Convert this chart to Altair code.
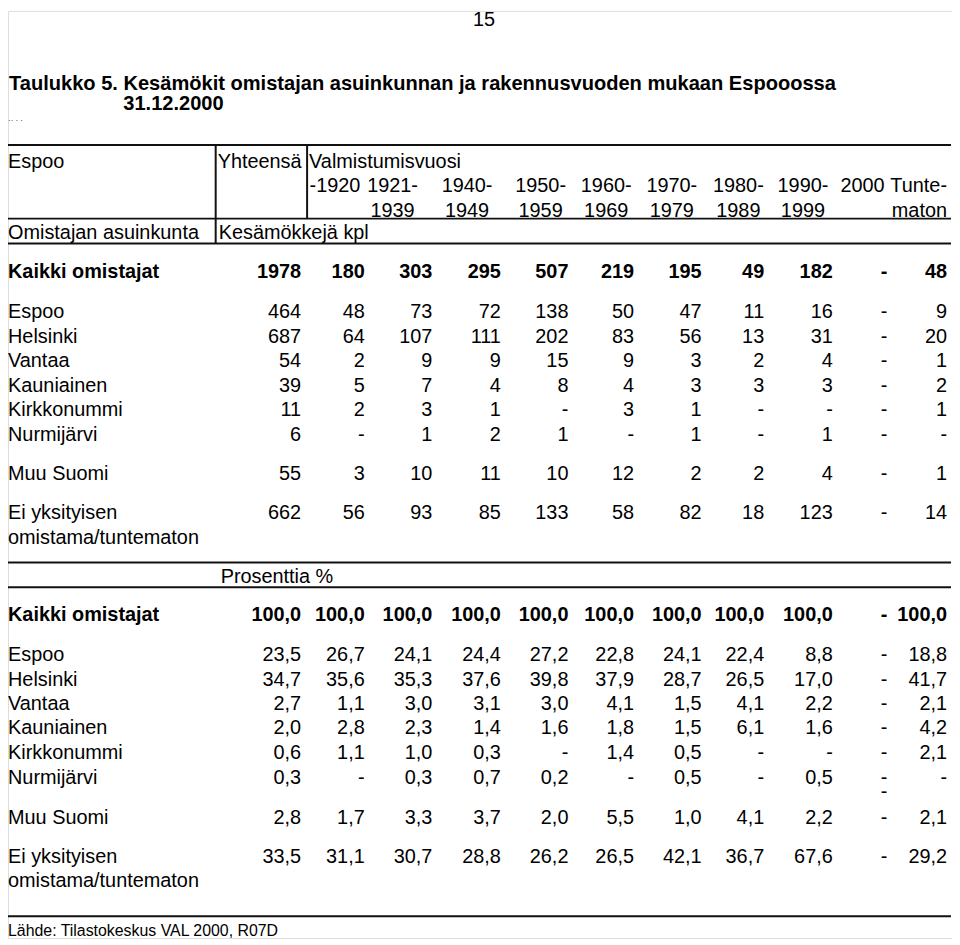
import altair as alt
import pandas as pd

# ---------------- data ----------------
title_line1 = "Taulukko 5. Kesämökit omistajan asuinkunnan ja rakennusvuoden mukaan Espooossa"
title_line2 = "31.12.2000"
page_number = "15"
source_note = "Lähde: Tilastokeskus VAL 2000, R07D"

header_top = ["Espoo", "Yhteensä", "Valmistumisvuosi"]
header_bottom = ["Omistajan asuinkunta", "Kesämökkejä kpl"]
period_line1 = ["-1920", "1921-", "1940-", "1950-", "1960-", "1970-", "1980-", "1990-", "2000"]
period_line2 = ["", "1939", "1949", "1959", "1969", "1979", "1989", "1999", ""]
unknown_head = ["Tunte-", "maton"]
percent_head = "Prosenttia %"

row_labels = ["Kaikki omistajat", "Espoo", "Helsinki", "Vantaa", "Kauniainen",
              "Kirkkonummi", "Nurmijärvi", "Muu Suomi", "Ei yksityisen"]
row_label_line2 = "omistama/tuntematon"

# columns: Yhteensä, -1920, 1921-1939, 1940-1949, 1950-1959, 1960-1969,
#          1970-1979, 1980-1989, 1990-1999, 2000, Tuntematon   (None = "-")
kaikki_kpl = [1978, 180, 303, 295, 507, 219, 195, 49, 182, None, 48]
espoo_kpl = [464, 48, 73, 72, 138, 50, 47, 11, 16, None, 9]
helsinki_kpl = [687, 64, 107, 111, 202, 83, 56, 13, 31, None, 20]
vantaa_kpl = [54, 2, 9, 9, 15, 9, 3, 2, 4, None, 1]
kauniainen_kpl = [39, 5, 7, 4, 8, 4, 3, 3, 3, None, 2]
kirkkonummi_kpl = [11, 2, 3, 1, None, 3, 1, None, None, None, 1]
nurmijarvi_kpl = [6, None, 1, 2, 1, None, 1, None, 1, None, None]
muu_kpl = [55, 3, 10, 11, 10, 12, 2, 2, 4, None, 1]
ei_kpl = [662, 56, 93, 85, 133, 58, 82, 18, 123, None, 14]

kaikki_pct = [100.0, 100.0, 100.0, 100.0, 100.0, 100.0, 100.0, 100.0, 100.0, None, 100.0]
espoo_pct = [23.5, 26.7, 24.1, 24.4, 27.2, 22.8, 24.1, 22.4, 8.8, None, 18.8]
helsinki_pct = [34.7, 35.6, 35.3, 37.6, 39.8, 37.9, 28.7, 26.5, 17.0, None, 41.7]
vantaa_pct = [2.7, 1.1, 3.0, 3.1, 3.0, 4.1, 1.5, 4.1, 2.2, None, 2.1]
kauniainen_pct = [2.0, 2.8, 2.3, 1.4, 1.6, 1.8, 1.5, 6.1, 1.6, None, 4.2]
kirkkonummi_pct = [0.6, 1.1, 1.0, 0.3, None, 1.4, 0.5, None, None, None, 2.1]
nurmijarvi_pct = [0.3, None, 0.3, 0.7, 0.2, None, 0.5, None, 0.5, "-\n-", None]
muu_pct = [2.8, 1.7, 3.3, 3.7, 2.0, 5.5, 1.0, 4.1, 2.2, None, 2.1]
ei_pct = [33.5, 31.1, 30.7, 28.8, 26.2, 26.5, 42.1, 36.7, 67.6, None, 29.2]

kpl_rows = [kaikki_kpl, espoo_kpl, helsinki_kpl, vantaa_kpl, kauniainen_kpl,
            kirkkonummi_kpl, nurmijarvi_kpl, muu_kpl, ei_kpl]
pct_rows = [kaikki_pct, espoo_pct, helsinki_pct, vantaa_pct, kauniainen_pct,
            kirkkonummi_pct, nurmijarvi_pct, muu_pct, ei_pct]

# ---------------- layout (page pixel coordinates) ----------------
W, H = 950, 933
X0, Y0 = 8, 8
FS = 20
col_right = [303, 367, 435, 504, 572, 638, 706, 769, 838, 893, 953]
head_center = [337, 395, 470, 544, 610, 676, 743, 808, 868]
label_x = 8
kpl_base = [277, 317, 342, 366, 391, 416, 441, 480, 519]
pct_base = [622, 662, 687, 711, 736, 761, 786, 826, 865]
line2_gap = 25


def fmt_kpl(v):
    return "-" if v is None else str(v)


def fmt_pct(v):
    if v is None:
        return "-"
    if isinstance(v, str):
        return v
    return f"{v:.1f}".replace(".", ",")


left, right, center = [], [], []   # each: text, x, y, bold, size


def add(lst, text, x, y, bold=False, size=FS):
    lst.append({"text": text, "x": x, "y": y, "bold": bold, "size": size})


# title and page furniture
add(center, page_number, 487, 23)
add(left, title_line1, 9, 88, True, 20.2)
add(left, title_line2, 124, 108, True, 20.2)
add(left, "·· · ·", 8, 121, False, 8)
add(left, source_note, 8, 939, False, 16)

# header block
add(left, header_top[0], label_x, 166)
add(left, header_top[1], 219, 166)
add(left, header_top[2], 311, 166)
for i, (a, b) in enumerate(zip(period_line1, period_line2)):
    add(center, a, head_center[i], 190)
    if b:
        add(center, b, head_center[i], 215)
add(right, unknown_head[0], 953, 190)
add(right, unknown_head[1], 953, 215)
add(left, header_bottom[0], label_x, 238)
add(left, header_bottom[1], 220, 238)
add(left, percent_head, 222, 584)

# body
for r, (lab, vals) in enumerate(zip(row_labels, kpl_rows)):
    bold = r == 0
    add(left, lab, label_x, kpl_base[r], bold)
    for c, v in enumerate(vals):
        add(right, fmt_kpl(v), col_right[c], kpl_base[r], bold)
add(left, row_label_line2, label_x, kpl_base[-1] + line2_gap)

for r, (lab, vals) in enumerate(zip(row_labels, pct_rows)):
    bold = r == 0
    add(left, lab, label_x, pct_base[r], bold)
    for c, v in enumerate(vals):
        add(right, fmt_pct(v), col_right[c], pct_base[r], bold)
add(left, row_label_line2, label_x, pct_base[-1] + line2_gap)

rules = pd.DataFrame([
    {"x": 8, "x2": 957, "y": 143, "y2": 143},
    {"x": 8, "x2": 957, "y": 217, "y2": 217},
    {"x": 8, "x2": 957, "y": 242, "y2": 242},
    {"x": 217, "x2": 217, "y": 143, "y2": 242},
    {"x": 309, "x2": 309, "y": 143, "y2": 217},
    {"x": 8, "x2": 957, "y": 563, "y2": 563},
    {"x": 8, "x2": 957, "y": 588, "y2": 588},
    {"x": 8, "x2": 957, "y": 919, "y2": 919},
])

xs = alt.Scale(domain=[X0, X0 + W], range=[0, W], nice=False, zero=False)
ys = alt.Scale(domain=[Y0, Y0 + H], range=[0, H], nice=False, zero=False)


def X(f):
    return alt.X(f"{f}:Q", scale=xs, axis=None)


def Y(f):
    return alt.Y(f"{f}:Q", scale=ys, axis=None)


rule_layer = alt.Chart(rules).mark_rule(color="#111111", strokeWidth=2).encode(
    x=X("x"), x2="x2", y=Y("y"), y2="y2"
)


def text_layer(rows, align, bold):
    df = pd.DataFrame([d for d in rows if d["bold"] == bold])
    return alt.Chart(df).mark_text(
        align=align, baseline="alphabetic", font="Liberation Sans",
        fontWeight="bold" if bold else "normal", color="#000000",
        lineBreak="\n", lineHeight=14
    ).encode(
        x=X("x"), y=Y("y"), text="text:N",
        size=alt.Size("size:Q", scale=None, legend=None)
    )


layers = [rule_layer]
for rows, align in [(left, "left"), (right, "right"), (center, "center")]:
    for bold in (False, True):
        if any(d["bold"] == bold for d in rows):
            layers.append(text_layer(rows, align, bold))

chart = alt.layer(*layers).properties(
    width=W, height=H, autosize=alt.AutoSizeParams(type="none"), padding=0
).configure_view(stroke="transparent", strokeWidth=0).configure(background="white")

chart.save("out.html", embed_options={"renderer": "svg", "actions": False})
